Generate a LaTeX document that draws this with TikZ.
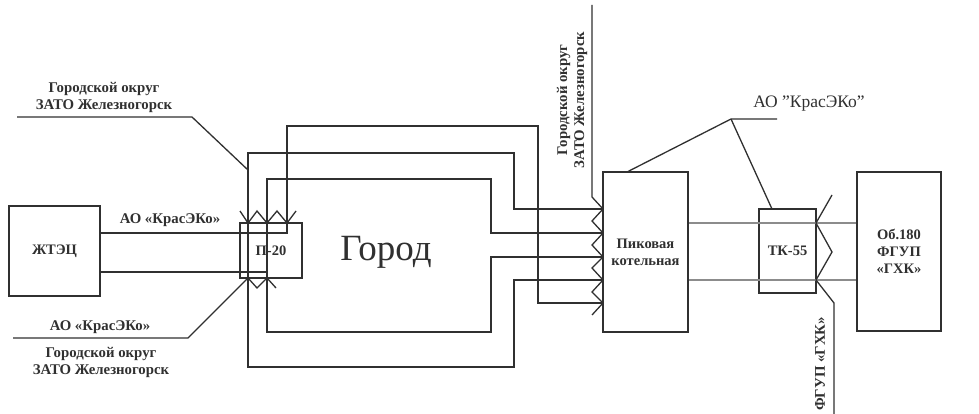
\documentclass[tikz,border=0pt]{standalone}
\usepackage{fontspec}
\setmainfont{Liberation Serif}
\definecolor{ink}{HTML}{303030}
\definecolor{thin}{HTML}{8C8C8C}
\begin{document}
\begin{tikzpicture}[x=1pt,y=-1pt,
  box/.style={draw=ink,line width=2pt,inner sep=0pt,font=\fontsize{14.5}{17}\selectfont\bfseries,align=center,text=ink},
  pipe/.style={draw=ink,line width=2.6pt,line join=miter},
  lead/.style={draw=ink,line width=1.3pt},
  thinpipe/.style={draw=thin,line width=1.3pt},
  lbl/.style={font=\fontsize{14.8}{17}\selectfont\bfseries,align=center,text=ink,inner sep=0pt}
]
\useasboundingbox (0,0) rectangle (979,414);
\fill[white] (0,0) rectangle (979,414);

% boxes
\node[box,minimum width=91pt,minimum height=90pt] (zh) at (54.5,251) {ЖТЭЦ};
\node[box,minimum width=85pt,minimum height=160pt] (pik) at (645.5,252) {Пиковая\\котельная};
\node[box,minimum width=57pt,minimum height=84pt] (tk) at (787.5,251) {ТК-55};
\node[box,minimum width=84pt,minimum height=159pt] (ob) at (899,251.5) {Об.180\\ФГУП\\«ГХК»};

% thin pipes between Пиковая and object 180
\draw[thinpipe] (pik.east |- 0,223) -- (ob.west |- 0,223);
\draw[thinpipe] (pik.east |- 0,280) -- (ob.west |- 0,280);

% main pipes
\draw[pipe] (zh.east |- 0,233) -- (287,233) -- (287,126) -- (538,126) -- (538,303) -- (pik.west |- 0,303);
\draw[pipe] (pik.west |- 0,233) -- (491,233) -- (491,179) -- (267,179) -- (267,332) -- (491,332) -- (491,257) -- (pik.west |- 0,257);
\draw[pipe] (zh.east |- 0,272) -- (267,272);
\draw[pipe] (pik.west |- 0,209) -- (514,209) -- (514,153) -- (248,153) -- (248,367) -- (514,367) -- (514,280) -- (pik.west |- 0,280);

% П-20
\node[box,minimum width=62pt,minimum height=55pt,fill=none] (p20) at (271,250.5) {П-20};

% Город
\node[font=\fontsize{37}{42}\selectfont,text=ink] (gorod) at (386,252) {Город};

% zigzags at П-20
\draw[lead] (240,211) -- (248,223) -- (257,211) -- (267,223) -- (277,211) -- (287,223) -- (296,211);
\draw[lead] (248,278) -- (257,288) -- (267,278) -- (276,288);

% leaders left
\draw[lead] (17,117) -- (192,117) -- (248,170);
\draw[lead] (13,338) -- (188,338) -- (248,278);
\node[lbl] (t1) at (104,97) {Городской округ\\ЗАТО Железногорск};
\node[lbl] (t2) at (170,220) {АО «КрасЭКо»};
\node[lbl] (t3) at (100,327) {АО «КрасЭКо»};
\node[lbl] (t4) at (101,362) {Городской округ\\ЗАТО Железногорск};

% leader + zigzag at Пиковая
\draw[lead] (592,5) -- (592,197) -- (603,209) -- (592,221) -- (603,233) -- (592,245) -- (603,257) -- (592,268) -- (603,280) -- (592,292) -- (603,303) -- (592,315);
\node[lbl,rotate=90] (t5) at (572,100) {Городской округ\\ЗАТО Железногорск};

% АО "КрасЭКо" leaders
\coordinate (kr) at (731,119);
\draw[lead] (777,119) -- (kr) -- (627,172);
\draw[lead] (kr) -- (772,209);
\node[font=\fontsize{17.5}{20}\selectfont,text=ink,inner sep=0pt] (t6) at (809,104) {АО \char"22 КрасЭКо\char"22};

% zigzag at ТК-55
\draw[lead] (832,195) -- (816,223) -- (832,252) -- (816,280) -- (834,303) -- (834,414);
\node[lbl,rotate=90] (t7) at (820,364) {ФГУП «ГХК»};
\end{tikzpicture}
\end{document}
